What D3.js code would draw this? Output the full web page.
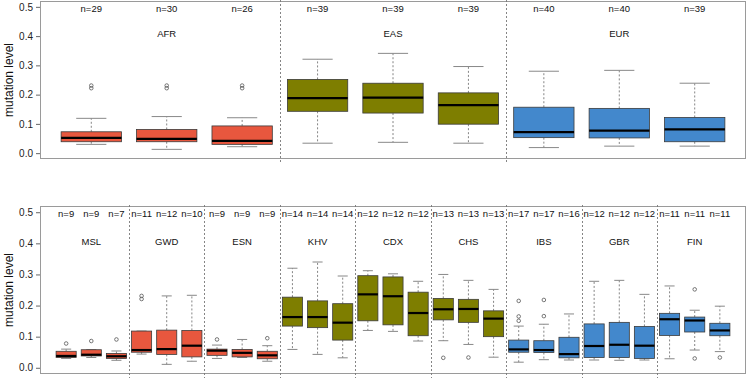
<!DOCTYPE html>
<html>
<head>
<meta charset="utf-8">
<script src="https://cdn.jsdelivr.net/npm/d3@7"></script>
<style>
  html, body { margin: 0; padding: 0; background: #fff; }
  svg { display: block; font-family: "Liberation Sans", Arial, Helvetica, sans-serif; }
</style>
</head>
<body>
<svg id="chart" width="748" height="378"></svg>
<script>
// ---------------- DATA ----------------
const yTicks = [0.0, 0.1, 0.2, 0.3, 0.4, 0.5];
const yTickLabels = ["0.0", "0.1", "0.2", "0.3", "0.4", "0.5"];

// Top panel: super-populations, 3 boxes each
const topGroups = ["AFR", "EAS", "EUR"];
const topGroupColor = ["red", "olive", "blue"];
const topN = [29, 30, 26, 39, 39, 39, 40, 40, 39];
const topLow  = [0.030, 0.013, 0.022, 0.034, 0.037, 0.034, 0.019, 0.024, 0.024];
const topQ1   = [0.039, 0.039, 0.030, 0.143, 0.137, 0.099, 0.053, 0.052, 0.039];
const topMed  = [0.052, 0.049, 0.042, 0.188, 0.190, 0.164, 0.072, 0.077, 0.081];
const topQ3   = [0.073, 0.081, 0.093, 0.252, 0.239, 0.206, 0.157, 0.153, 0.122];
const topHigh = [0.119, 0.125, 0.121, 0.321, 0.341, 0.296, 0.280, 0.283, 0.239];
const topOut  = [[0.222, 0.231], [0.222, 0.231], [0.222, 0.231], [], [], [], [], [], []];

// Bottom panel: populations, 3 boxes each
const botGroups = ["MSL", "GWD", "ESN", "KHV", "CDX", "CHS", "IBS", "GBR", "FIN"];
const botGroupColor = ["red", "red", "red", "olive", "olive", "olive", "blue", "blue", "blue"];
const botN = [9, 9, 7, 11, 12, 10, 9, 9, 9, 14, 14, 14, 12, 12, 12, 13, 13, 13, 17, 17, 16, 12, 12, 12, 11, 11, 11];
const botLow  = [0.030, 0.033, 0.024, 0.044, 0.011, 0.021, 0.030, 0.033, 0.021,
                 0.059, 0.043, 0.032, 0.120, 0.117, 0.086, 0.087, 0.075, 0.034,
                 0.018, 0.026, 0.025, 0.025, 0.024, 0.025, 0.029, 0.057, 0.052];
const botQ1   = [0.033, 0.038, 0.030, 0.050, 0.043, 0.035, 0.040, 0.035, 0.029,
                 0.134, 0.129, 0.089, 0.151, 0.138, 0.103, 0.154, 0.146, 0.100,
                 0.050, 0.049, 0.032, 0.033, 0.033, 0.030, 0.104, 0.115, 0.103];
const botMed  = [0.038, 0.042, 0.037, 0.057, 0.060, 0.071, 0.055, 0.048, 0.040,
                 0.163, 0.163, 0.145, 0.236, 0.230, 0.176, 0.188, 0.189, 0.158,
                 0.059, 0.057, 0.044, 0.070, 0.074, 0.071, 0.156, 0.152, 0.120];
const botQ3   = [0.053, 0.058, 0.046, 0.118, 0.121, 0.120, 0.060, 0.059, 0.053,
                 0.227, 0.215, 0.206, 0.296, 0.292, 0.243, 0.223, 0.220, 0.183,
                 0.089, 0.087, 0.098, 0.141, 0.146, 0.133, 0.175, 0.163, 0.143];
const botHigh = [0.060, 0.058, 0.054, 0.118, 0.231, 0.233, 0.073, 0.091, 0.071,
                 0.320, 0.340, 0.295, 0.312, 0.302, 0.278, 0.300, 0.281, 0.252,
                 0.134, 0.140, 0.173, 0.278, 0.281, 0.236, 0.263, 0.185, 0.198];
const botOut  = [[0.078], [0.086], [0.091], [0.221, 0.231], [], [], [0.091], [], [0.095],
                 [], [], [], [], [], [], [0.032], [0.033], [],
                 [0.151, 0.165, 0.215], [0.166, 0.218], [], [], [], [], [], [0.030, 0.252], [0.033]];

// ---------------- DRAW ----------------
const palette = { red: "#E8573E", olive: "#7E7E00", blue: "#4388CC" };
const svg = d3.select("#chart");
const W = 748;
const left = 40, right = 746;

function drawPanel(cfg) {
  const nBox = cfg.n.length;
  const pad = 0.04 * nBox / 2;
  const x = d3.scaleLinear().domain([0.5 - pad, nBox + 0.5 + pad]).range([left, right]);
  const y = d3.scaleLinear().domain([-0.02, 0.52]).range([cfg.bottom, cfg.top]);
  const g = svg.append("g");
  const unit = x(2) - x(1);
  const bw = unit * 0.8;

  // frame
  g.append("rect")
    .attr("x", left + 0.5).attr("y", cfg.top + 0.5)
    .attr("width", right - left - 1).attr("height", cfg.bottom - cfg.top - 1)
    .attr("fill", "none").attr("stroke", "#9a9a9a").attr("stroke-width", 1);

  // y axis
  const axis = d3.axisLeft(y).tickValues(yTicks).tickFormat((d, i) => yTickLabels[i]).tickSize(4).tickPadding(3);
  const ag = g.append("g").attr("transform", `translate(${left},0)`).call(axis);
  ag.select(".domain").remove();
  ag.selectAll("line").attr("stroke", "#666");
  ag.selectAll("text").attr("font-size", 10).attr("fill", "#222")
    .attr("font-family", "'Liberation Sans', Arial, sans-serif");

  // y label
  const cy = (y(0) + y(0.5)) / 2;
  g.append("text")
    .attr("transform", `translate(10,${cy}) rotate(-90)`)
    .attr("text-anchor", "middle").attr("dominant-baseline", "middle")
    .attr("font-size", 12).attr("fill", "#111")
    .text("mutation level");

  // separators
  const nGroups = cfg.groups.length;
  for (let k = 1; k < nGroups; k++) {
    const sx = Math.round(x(k * 3 + 0.5)) + 0.5;
    g.append("line")
      .attr("x1", sx).attr("x2", sx)
      .attr("y1", cfg.top - 1).attr("y2", cfg.bottom + 5)
      .attr("stroke", "#777").attr("stroke-width", 0.9)
      .attr("stroke-dasharray", "2,2");
  }

  // group labels
  cfg.groups.forEach((name, k) => {
    g.append("text")
      .attr("x", x(k * 3 + 2)).attr("y", cfg.groupLabelY)
      .attr("text-anchor", "middle").attr("font-size", 9.5).attr("fill", "#111")
      .text(name);
  });

  // n labels
  cfg.n.forEach((nv, i) => {
    g.append("text")
      .attr("x", x(i + 1)).attr("y", cfg.nLabelY)
      .attr("text-anchor", "middle").attr("font-size", 9.5).attr("fill", "#111")
      .text("n=" + nv);
  });

  // boxes
  for (let i = 0; i < nBox; i++) {
    const cx = x(i + 1);
    const col = palette[cfg.groupColor[Math.floor(i / 3)]];
    const capW = bw * 0.5;
    // whiskers
    if (cfg.high[i] > cfg.q3[i] + 1e-6) {
      g.append("line").attr("x1", cx).attr("x2", cx)
        .attr("y1", y(cfg.q3[i])).attr("y2", y(cfg.high[i]))
        .attr("stroke", "#777").attr("stroke-width", 0.9).attr("stroke-dasharray", "2,2");
    }
    g.append("line").attr("x1", cx - capW / 2).attr("x2", cx + capW / 2)
      .attr("y1", y(cfg.high[i])).attr("y2", y(cfg.high[i]))
      .attr("stroke", "#888").attr("stroke-width", 1);
    if (cfg.low[i] < cfg.q1[i] - 1e-6) {
      g.append("line").attr("x1", cx).attr("x2", cx)
        .attr("y1", y(cfg.q1[i])).attr("y2", y(cfg.low[i]))
        .attr("stroke", "#777").attr("stroke-width", 0.9).attr("stroke-dasharray", "2,2");
    }
    g.append("line").attr("x1", cx - capW / 2).attr("x2", cx + capW / 2)
      .attr("y1", y(cfg.low[i])).attr("y2", y(cfg.low[i]))
      .attr("stroke", "#888").attr("stroke-width", 1);
    // box
    g.append("rect")
      .attr("x", cx - bw / 2).attr("y", y(cfg.q3[i]))
      .attr("width", bw).attr("height", Math.max(1, y(cfg.q1[i]) - y(cfg.q3[i])))
      .attr("fill", col).attr("stroke", "#3b3b3b").attr("stroke-width", 0.8);
    // median
    g.append("line").attr("x1", cx - bw / 2).attr("x2", cx + bw / 2)
      .attr("y1", y(cfg.med[i])).attr("y2", y(cfg.med[i]))
      .attr("stroke", "#000").attr("stroke-width", 2.2);
    // outliers
    cfg.out[i].forEach(v => {
      g.append("circle").attr("cx", cx).attr("cy", y(v)).attr("r", 1.8)
        .attr("fill", "none").attr("stroke", "#555").attr("stroke-width", 0.8);
    });
  }
}

drawPanel({
  top: 1, bottom: 159, nLabelY: 12, groupLabelY: 37,
  groups: topGroups, groupColor: topGroupColor, n: topN,
  low: topLow, q1: topQ1, med: topMed, q3: topQ3, high: topHigh, out: topOut
});

drawPanel({
  top: 206, bottom: 374, nLabelY: 217, groupLabelY: 245,
  groups: botGroups, groupColor: botGroupColor, n: botN,
  low: botLow, q1: botQ1, med: botMed, q3: botQ3, high: botHigh, out: botOut
});
</script>
</body>
</html>
